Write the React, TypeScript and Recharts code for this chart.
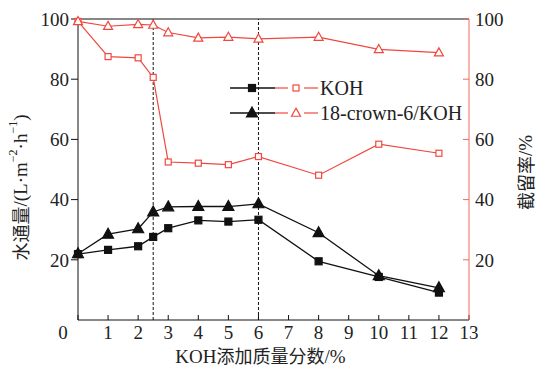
import { Line, LineChart, ReferenceLine, XAxis, YAxis } from "recharts"

const kohContent = [0, 1, 2, 2.5, 3, 4, 5, 6, 8, 10, 12]
const fluxKoh = [21.9, 23.3, 24.5, 27.6, 30.5, 33.1, 32.7, 33.3, 19.5, 14.3, 9.1]
const fluxCrown = [22.0, 28.5, 30.3, 35.9, 37.6, 37.7, 37.7, 38.6, 29.0, 14.7, 10.7]
const rejKoh = [99.2, 87.5, 87.1, 80.6, 52.5, 52.1, 51.6, 54.3, 48.1, 58.4, 55.4]
const rejCrown = [99.2, 97.6, 98.2, 98.0, 95.5, 93.7, 94.0, 93.4, 94.0, 89.9, 88.8]
const xTicks = [0, 1, 2, 3, 4, 5, 6, 7, 8, 9, 10, 11, 12, 13]
const yTicks = [20, 40, 60, 80, 100]
const markLines = [2.5, 6]

const data = kohContent.map((x, i) => ({
  x,
  fluxKoh: fluxKoh[i],
  fluxCrown: fluxCrown[i],
  rejKoh: rejKoh[i],
  rejCrown: rejCrown[i],
}))

const RED = "#f0483f"
const AXIS_RED = "#f06a5e"
const SERIF = "Liberation Serif"
const CJK = "Noto Sans CJK SC"

function square(color: string, filled: boolean, s: number) {
  return (props: any) => {
    const { cx, cy, index } = props
    if (cx == null || cy == null) return <g key={index} />
    return (
      <rect
        key={index}
        x={cx - s / 2}
        y={cy - s / 2}
        width={s}
        height={s}
        fill={filled ? color : "#fff"}
        stroke={color}
        strokeWidth={1.2}
      />
    )
  }
}

function triangle(color: string, filled: boolean, s: number) {
  return (props: any) => {
    const { cx, cy, index } = props
    if (cx == null || cy == null) return <g key={index} />
    const h = s * 0.9
    return (
      <path
        key={index}
        d={`M${cx},${cy - h * 0.6} L${cx + s / 2},${cy + h * 0.4} L${cx - s / 2},${cy + h * 0.4} Z`}
        fill={filled ? color : "#fff"}
        stroke={color}
        strokeWidth={1.2}
      />
    )
  }
}

function XTick(props: any) {
  const { x, y, payload } = props
  const dx = payload.value === 0 ? -15 : 0
  return (
    <text x={x + dx} y={y} dy="0.71em" textAnchor="middle" fontSize={19} fontFamily={SERIF} fill="#222">
      {payload.value}
    </text>
  )
}

function Legend() {
  const rows = [
    { y: 88, label: "KOH", kind: "sq" },
    { y: 113, label: "18-crown-6/KOH", kind: "tri" },
  ]
  return (
    <svg width={538} height={369} style={{ position: "absolute", left: 0, top: 0, pointerEvents: "none" }}>
      {rows.map((r) => (
        <g key={r.label}>
          <line x1={230} x2={275} y1={r.y} y2={r.y} stroke="#111" strokeWidth={1.3} />
          {r.kind === "sq"
            ? square("#111", true, 7)({ cx: 252, cy: r.y, index: 0 })
            : triangle("#111", true, 11)({ cx: 252, cy: r.y, index: 0 })}
          <line x1={275} x2={288} y1={r.y} y2={r.y} stroke={RED} strokeWidth={1.2} />
          <line x1={304} x2={318} y1={r.y} y2={r.y} stroke={RED} strokeWidth={1.2} />
          {r.kind === "sq"
            ? square(RED, false, 6)({ cx: 296, cy: r.y, index: 0 })
            : triangle(RED, false, 9)({ cx: 296, cy: r.y, index: 0 })}
          <text x={320} y={r.y + 7} fontSize={20} fontFamily={SERIF} fill="#222">
            {r.label}
          </text>
        </g>
      ))}
    </svg>
  )
}

export default function App() {
  return (
    <div style={{ position: "absolute", left: 0, top: 0, width: 538, height: 369, background: "#fff" }}>
      <LineChart width={538} height={369} data={data} margin={{ top: 19, right: 0, bottom: 0, left: 0 }}>
        <XAxis
          dataKey="x"
          type="number"
          domain={[0, 13]}
          ticks={xTicks}
          height={49}
          stroke="#111"
          tickSize={-5}
          tickMargin={11}
          tick={<XTick />}
          interval={0}
          label={{
            content: (p: any) => {
              const vb = p.viewBox
              return (
                <text x={vb.x + vb.width / 2 - 13} y={vb.y + 43} textAnchor="middle" fontSize={19} fontFamily={SERIF} fill="#222">
                  KOH
                  <tspan fontFamily={CJK} fontSize={18}>添加质量分数</tspan>
                  /%
                </text>
              )
            },
          }}
        />
        <YAxis
          yAxisId="left"
          domain={[0, 100]}
          ticks={yTicks}
          width={78}
          stroke="#111"
          tickSize={7}
          tickMargin={2}
          tick={{ fontSize: 19, fontFamily: SERIF, fill: "#222" }}
          label={{
            content: (p: any) => {
              const vb = p.viewBox
              const cx = vb.x + 20
              const cy = vb.y + vb.height / 2 + 18
              return (
                <text
                  x={cx}
                  y={cy}
                  transform={`rotate(-90 ${cx} ${cy})`}
                  textAnchor="middle"
                  dominantBaseline="central"
                  fontSize={19}
                  fontFamily={SERIF}
                  fill="#222"
                >
                  <tspan fontFamily={CJK} fontSize={18}>水通量</tspan>
                  /(L·m
                  <tspan fontSize={12} dy={-7}>−2</tspan>
                  <tspan dy={7}>·h</tspan>
                  <tspan fontSize={12} dy={-7}>−1</tspan>
                  <tspan dy={7}>)</tspan>
                </text>
              )
            },
          }}
        />
        <YAxis
          yAxisId="right"
          orientation="right"
          domain={[0, 100]}
          ticks={yTicks}
          width={69}
          stroke={AXIS_RED}
          tickSize={-6}
          tickMargin={12}
          tick={{ fontSize: 19, fontFamily: SERIF, fill: "#222" }}
          label={{
            content: (p: any) => {
              const vb = p.viewBox
              const cx = vb.x + 56
              const cy = vb.y + vb.height / 2 + 3
              return (
                <text
                  x={cx}
                  y={cy}
                  transform={`rotate(-90 ${cx} ${cy})`}
                  textAnchor="middle"
                  dominantBaseline="central"
                  fontSize={19}
                  fontFamily={SERIF}
                  fill="#222"
                >
                  <tspan fontFamily={CJK} fontSize={18}>截留率</tspan>
                  /%
                </text>
              )
            },
          }}
        />
        <ReferenceLine yAxisId="left" y={100} stroke="#111" strokeWidth={1.2} />
        {markLines.map((v) => (
          <ReferenceLine key={v} yAxisId="left" x={v} stroke="#111" strokeDasharray="3 2" strokeWidth={1} />
        ))}
        <Line
          yAxisId="right"
          dataKey="rejKoh"
          stroke={RED}
          strokeWidth={1.2}
          dot={square(RED, false, 6)}
          isAnimationActive={false}
        />
        <Line
          yAxisId="right"
          dataKey="rejCrown"
          stroke={RED}
          strokeWidth={1.2}
          dot={triangle(RED, false, 9)}
          isAnimationActive={false}
        />
        <Line
          yAxisId="left"
          dataKey="fluxKoh"
          stroke="#111"
          strokeWidth={1.3}
          dot={square("#111", true, 7)}
          isAnimationActive={false}
        />
        <Line
          yAxisId="left"
          dataKey="fluxCrown"
          stroke="#111"
          strokeWidth={1.3}
          dot={triangle("#111", true, 11)}
          isAnimationActive={false}
        />
      </LineChart>
      <Legend />
    </div>
  )
}
